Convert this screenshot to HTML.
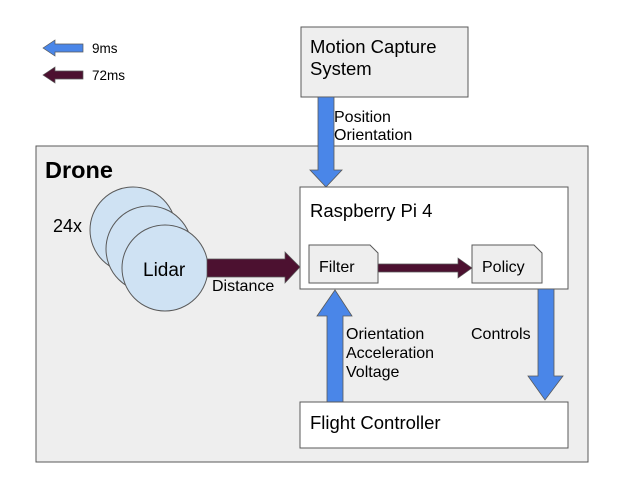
<!DOCTYPE html>
<html><head><style>body{margin:0;background:#fff}svg{display:block}text{font-family:"Liberation Sans",Arial,sans-serif;fill:#000}</style></head><body>
<svg width="624" height="480" viewBox="0 0 624 480" xmlns="http://www.w3.org/2000/svg">
<rect x="36" y="146" width="552" height="316" fill="#eeeeee" stroke="#595959" stroke-width="1"/>
<text x="45" y="178" font-size="23.5" font-weight="bold">Drone</text>
<rect x="301" y="27" width="167" height="70" fill="#eeeeee" stroke="#595959"/>
<text x="310" y="53" font-size="18.5">Motion Capture</text>
<text x="310" y="75" font-size="18.5">System</text>
<!-- legend -->
<polygon points="43,48 55,40 55,44 83,44 83,52 55,52 55,56" fill="#4a86e8" stroke="#595959" stroke-width="0.7"/>
<text x="92" y="53" font-size="13.5">9ms</text>
<polygon points="43,75 55,67 55,71 83,71 83,79 55,79 55,83" fill="#4c1130" stroke="#595959" stroke-width="0.7"/>
<text x="92" y="80" font-size="13.5">72ms</text>
<!-- mocap arrow -->
<polygon points="318,97 334,97 334,170 342,170 326,187 310,170 318,170" fill="#4a86e8" stroke="#595959" stroke-width="0.8"/>
<text x="334" y="122" font-size="16">Position</text>
<text x="334" y="140" font-size="16">Orientation</text>
<rect x="300" y="187" width="268" height="102" fill="#fff" stroke="#595959"/>
<text x="310" y="217" font-size="18.5">Raspberry Pi 4</text>
<polygon points="309,245 370,245 378,253 378,283 309,283" fill="#eeeeee" stroke="#595959"/>
<text x="319" y="272" font-size="16">Filter</text>
<polygon points="472,245 534,245 542,253 542,283 472,283" fill="#eeeeee" stroke="#595959"/>
<text x="482" y="272" font-size="16">Policy</text>
<polygon points="378,264 458,264 458,258 472,268 458,278 458,272 378,272" fill="#4c1130" stroke="#595959" stroke-width="0.7"/>
<!-- lidar -->
<circle cx="133" cy="230" r="43" fill="#cfe2f3" stroke="#595959"/>
<circle cx="149" cy="249" r="43" fill="#cfe2f3" stroke="#595959"/>
<circle cx="165" cy="268" r="43" fill="#cfe2f3" stroke="#595959"/>
<text x="143" y="276" font-size="19">Lidar</text>
<text x="53" y="232" font-size="18">24x</text>
<polygon points="207,259 285,259 285,252 300,267 285,283 285,277 207,277" fill="#4c1130" stroke="#595959" stroke-width="0.7"/>
<text x="212" y="291" font-size="16">Distance</text>
<!-- up arrow -->
<polygon points="327,402 343,402 343,316 352,316 335,290 317,316 327,316" fill="#4a86e8" stroke="#595959" stroke-width="0.8"/>
<text x="346" y="339" font-size="16">Orientation</text>
<text x="346" y="358" font-size="16">Acceleration</text>
<text x="346" y="377" font-size="16">Voltage</text>
<!-- down arrow -->
<polygon points="538,289 554,289 554,376 563,376 545,400 528,376 538,376" fill="#4a86e8" stroke="#595959" stroke-width="0.8"/>
<text x="471" y="339" font-size="16">Controls</text>
<rect x="300" y="402" width="268" height="46" fill="#fff" stroke="#595959"/>
<text x="310" y="429" font-size="18.5">Flight Controller</text>
</svg>
</body></html>
